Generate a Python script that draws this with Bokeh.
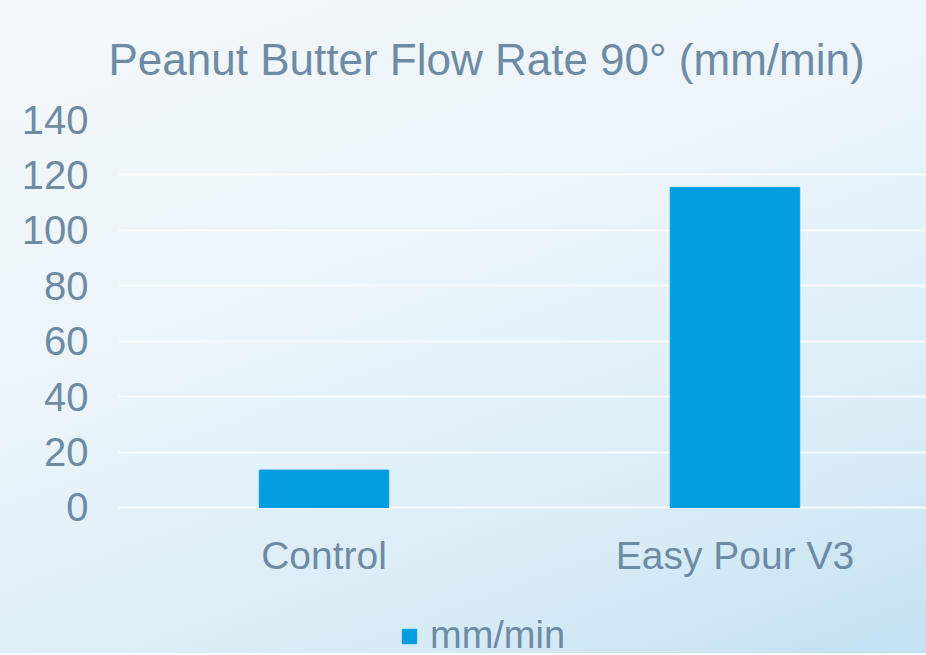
from bokeh.plotting import figure
from bokeh.models import Range1d, FixedTicker, ColumnDataSource, Legend, LegendItem
from bokeh.embed import file_html
from bokeh.resources import INLINE

categories = ["Control", "Easy Pour V3"]
values = [13.5, 115.5]
y_ticks = [0, 20, 40, 60, 80, 100, 120, 140]
series_name = "mm/min"
title_text = "Peanut Butter Flow Rate 90\u00b0  (mm/min)"

FONT = "Liberation Sans"
TEXT_COLOR = "#6f8ba4"
BAR_COLOR = "#049ddf"

xs = [i + 0.5 for i in range(len(categories))]
source = ColumnDataSource(dict(x=xs, top=values, cat=categories))

# frame extends below zero so the category labels and legend sit inside the drawing area
p = figure(frame_width=808, frame_height=534, output_backend="svg", toolbar_location=None,
           x_range=Range1d(0, 1.966), y_range=Range1d(-52.7, 140),
           min_border_left=118, min_border_right=0, min_border_top=0, min_border_bottom=0)

p.styles = {"background": "linear-gradient(160deg, #f3f8fb 0%, #eaf4fa 45%, #d6ebf6 80%, #c3e1f2 100%)"}

p.title.text = title_text
p.title.align = "left"
p.title.offset = -10
p.title.vertical_align = "top"
p.title.text_font = FONT
p.title.text_font_size = "44px"
p.title.text_font_style = "normal"
p.title.text_color = TEXT_COLOR
p.title.standoff = 68

p.background_fill_alpha = 0
p.border_fill_alpha = 0
p.outline_line_color = None

r = p.vbar(x="x", top="top", bottom=0, width=0.315, source=source,
           fill_color=BAR_COLOR, line_color=BAR_COLOR)

# axes
p.yaxis.ticker = FixedTicker(ticks=y_ticks)
p.yaxis.axis_line_color = None
p.yaxis.major_tick_line_color = None
p.yaxis.minor_tick_line_color = None
p.yaxis.major_label_text_font = FONT
p.yaxis.major_label_text_font_size = "40px"
p.yaxis.major_label_text_color = TEXT_COLOR
p.yaxis.major_label_standoff = 24

p.xaxis.ticker = FixedTicker(ticks=xs)
p.xaxis.major_label_overrides = {x: c for x, c in zip(xs, categories)}
p.xaxis.fixed_location = -23.8
p.xaxis.axis_line_color = None
p.xaxis.major_tick_line_color = None
p.xaxis.minor_tick_line_color = None
p.xaxis.major_label_text_font = FONT
p.xaxis.major_label_text_font_size = "39px"
p.xaxis.major_label_text_color = TEXT_COLOR
p.xaxis.major_label_standoff = -45

p.xgrid.grid_line_color = None
p.ygrid.grid_line_color = "#f9fcfe"
p.ygrid.grid_line_width = 2

legend = Legend(items=[LegendItem(label=series_name, renderers=[r])],
                location=(282, -4), orientation="horizontal",
                background_fill_alpha=0, border_line_color=None,
                label_text_font=FONT, label_text_font_size="38px",
                label_text_color=TEXT_COLOR, glyph_width=18, glyph_height=18,
                label_standoff=12, padding=0, margin=0)
p.add_layout(legend)

open("out.html", "w").write(file_html(p, INLINE))
